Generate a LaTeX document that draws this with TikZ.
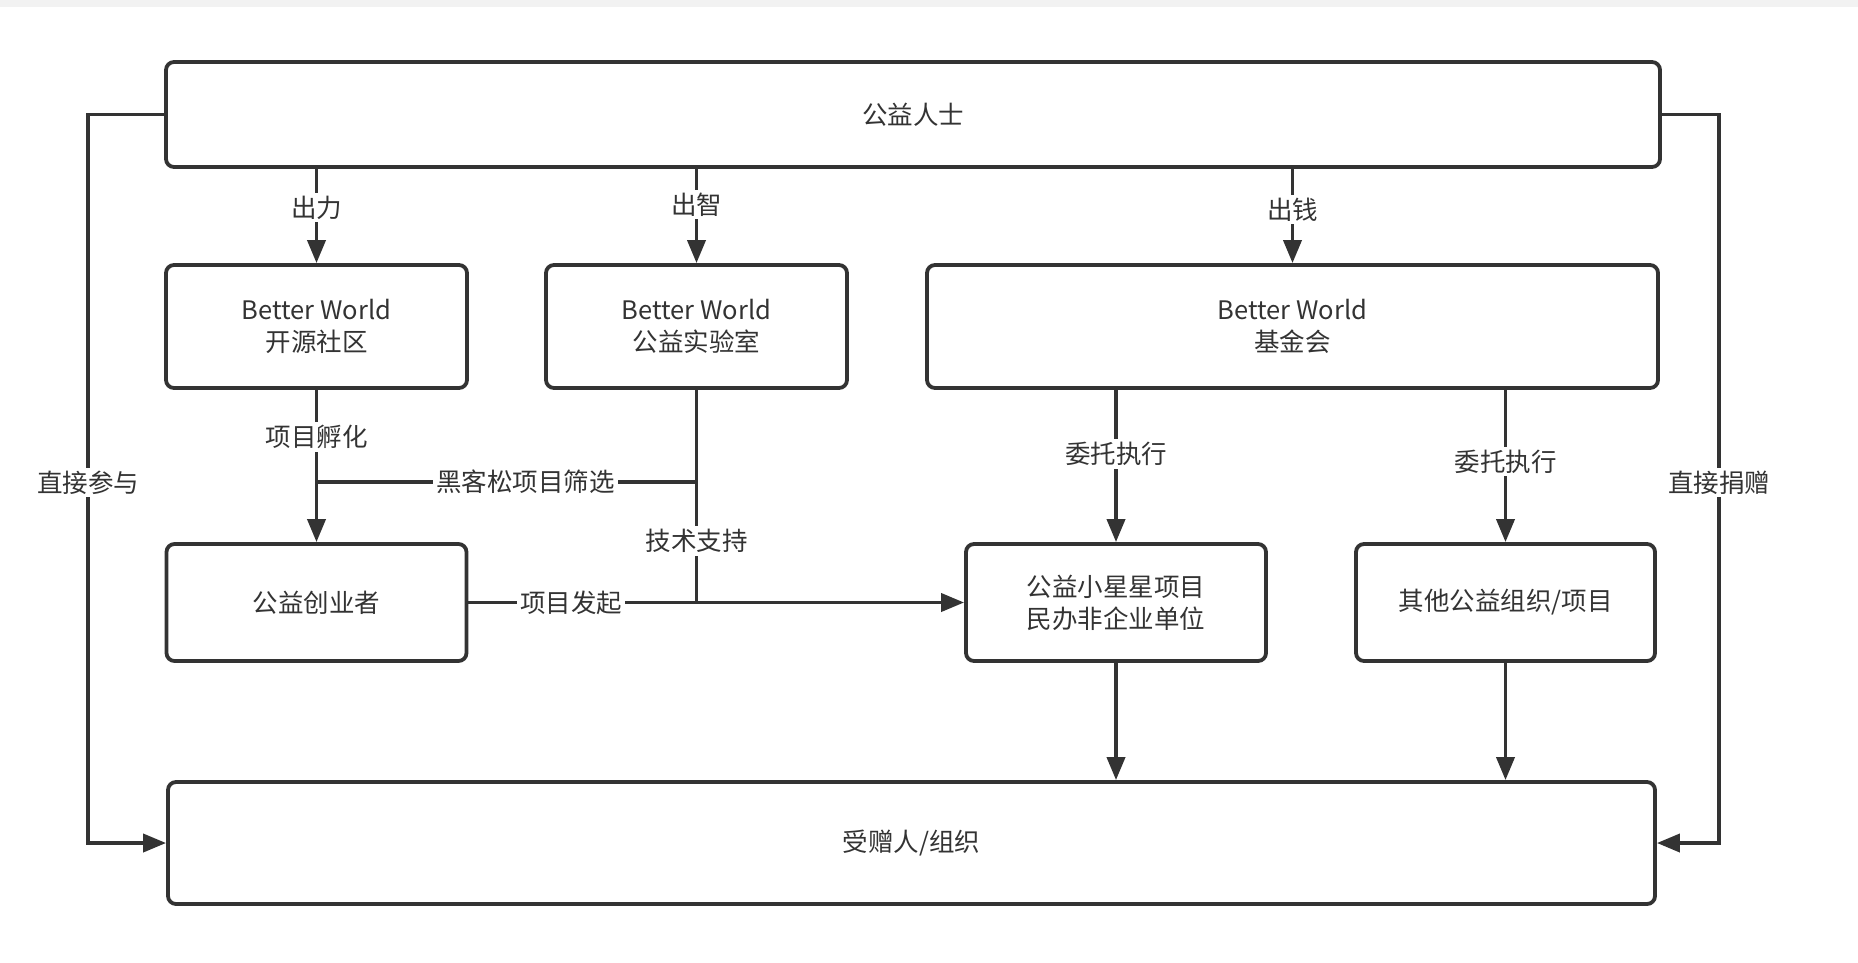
\documentclass[tikz,border=0pt]{standalone}
\usepackage{fontspec}
\setmainfont{Noto Sans CJK SC}
\usetikzlibrary{arrows.meta}
\definecolor{ink}{HTML}{333333}
\definecolor{band}{HTML}{F2F2F2}
\newcommand\dtxt{\fontsize{25.5}{32}\selectfont}
\begin{document}
\begin{tikzpicture}[x=1pt,y=-1pt,
  box/.style={draw=ink, line width=3.8pt, rounded corners=8pt, align=center, text=ink, inner sep=0pt, font=\dtxt},
  lbl/.style={fill=white, text=ink, inner sep=3pt, font=\dtxt},
  conn/.style={draw=ink, line width=3.8pt},
  arr/.style={conn, -{Triangle[length=23pt,width=18pt]}}
]
\useasboundingbox (0,0) rectangle (1858,962);
\fill[band] (0,0) rectangle (1858,7);

\node[box, minimum width=1494pt, minimum height=105pt] (top) at (913,114.5) {公益人士};
\node[box, minimum width=301pt, minimum height=123pt] (A) at (316.5,326.5) {Better World\\开源社区};
\node[box, minimum width=301pt, minimum height=123pt] (B) at (696.5,326.5) {Better World\\公益实验室};
\node[box, minimum width=731pt, minimum height=123pt] (C) at (1292.5,326.5) {Better World\\基金会};
\node[box, minimum width=300pt, minimum height=117pt] (D) at (316.5,602.5) {公益创业者};
\node[box, minimum width=300pt, minimum height=117pt] (E) at (1116,602.5) {公益小星星项目\\民办非企业单位};
\node[box, minimum width=299pt, minimum height=117pt] (F) at (1505.5,602.5) {其他公益组织/项目};
\node[box, minimum width=1487pt, minimum height=122pt] (G) at (911.5,843) {受赠人/组织};

\coordinate (hy) at (0,482);
\coordinate (L1) at (88,114.5);
\coordinate (L2) at (88,843);
\coordinate (R1) at (1719,114.5);
\coordinate (R2) at (1719,843);

\draw[arr] (top.south -| A.center) -- node[lbl,pos=.41]{出力} (A.north);
\draw[arr] (top.south -| B.center) -- node[lbl,pos=.38]{出智} (B.north);
\draw[arr] (top.south -| C.center) -- node[lbl,pos=.43]{出钱} (C.north);

\draw[arr] (A.south) -- node[lbl,pos=.31]{项目孵化} (D.north);
\draw[conn] (A.south |- hy) -- node[lbl,pos=.55]{黑客松项目筛选} (B.south |- hy);
\draw[arr] (B.south) |- node[lbl,pos=.355]{技术支持} (E.west);
\draw[conn] (D.east) -- node[lbl,pos=.45]{项目发起} (D.east -| B.south);

\draw[arr] (C.south -| E.center) -- node[lbl,pos=.42]{委托执行} (E.north);
\draw[arr] (C.south -| F.center) -- node[lbl,pos=.47]{委托执行} (F.north);
\draw[arr] (E.south) -- (G.north -| E.south);
\draw[arr] (F.south) -- (G.north -| F.south);

\draw[arr] (top.west) -- (L1) -- node[lbl,pos=.505]{直接参与} (L2) -- (G.west);
\draw[arr] (top.east) -- (R1) -- node[lbl,pos=.505]{直接捐赠} (R2) -- (G.east);
\end{tikzpicture}
\end{document}
